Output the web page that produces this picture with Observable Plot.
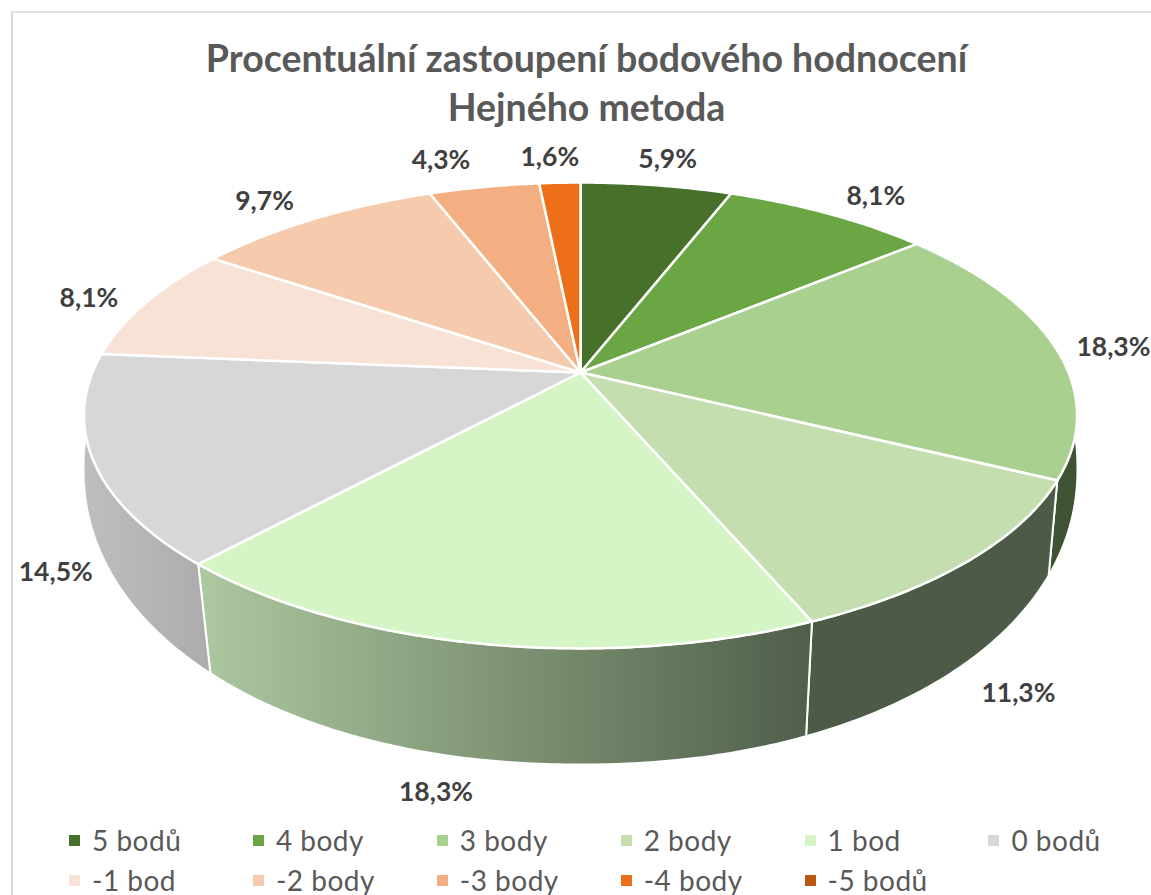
<!DOCTYPE html>
<html lang="cs"><head><meta charset="utf-8">
<script src="https://cdn.jsdelivr.net/npm/d3@7"></script>
<script src="https://cdn.jsdelivr.net/npm/@observablehq/plot@0.6"></script>
<style>
html,body{margin:0;padding:0;background:#fff;overflow:hidden;width:1151px;height:895px}
#frame{position:absolute;left:11px;top:11px;width:1140px;height:884px;border-left:2px solid #d9d9d9;border-top:2px solid #e2e2e2;box-sizing:border-box}
#title{position:absolute;left:0;top:33px;width:1173px;text-align:center;font:bold 37.5px/49px Lato,sans-serif;color:#595959}
#chart{position:absolute;left:0;top:132px}
#legend{position:absolute;left:69px;top:820px;display:grid;grid-template-columns:repeat(6,183.9px);grid-auto-rows:40px;font:28px/40px Lato,sans-serif;color:#595959;letter-spacing:.5px}
#legend div{white-space:nowrap;display:flex;align-items:center}
#legend i{display:inline-block;width:11px;height:11px;margin-right:12px}
</style></head><body>
<div id="frame"></div>
<div id="title"></div>
<div id="chart"></div>
<div id="legend"></div>
<script>
const titleLines = ["Procentuální zastoupení bodového hodnocení", "Hejného metoda"];
const categories = ["5 bodů","4 body","3 body","2 body","1 bod","0 bodů","-1 bod","-2 body","-3 body","-4 body","-5 bodů"];
const shares = [5.9, 8.1, 18.3, 11.3, 18.3, 14.5, 8.1, 9.7, 4.3, 1.6, 0];
const colors = ["#47712B","#6AA644","#A9D08E","#C5DEB0","#D6F5C6","#D7D7D7","#F7E2D5","#F6CAAD","#F3AF82","#ED7018","#B85813"];
const wallFills = {"3 body":"#3F5233","2 body":"#4D5A47","1 bod":"url(#wall1)","0 bodů":"url(#wall0)"};
const labelDx = [0,12,-1,21,-33,12,-1,-12,-29,-7];
const labelDy = [0,4,4,5,7,13,5,3,-1,1];

document.getElementById("title").innerHTML = titleLines.join("<br>");
document.getElementById("legend").innerHTML = categories.map((c,i)=>`<div><i style="background:${colors[i]}"></i>${c}</div>`).join("");

// perspective projection of the pie's top disc, and the rounded curve of its lower rim
const cx = 580;
const topDisc = {cy:372, a:488, b:225, k:0.1845};
const lowerRim = {cy:468, a:497, b:296, warp:0.118, power:0.952};
const projectTop = t=>{
  const w = 1 + topDisc.k*Math.cos(t);
  return [cx + topDisc.a*Math.sin(t)/w, topDisc.cy - topDisc.b*Math.cos(t)/w];
};
const rounded = v=>Math.sign(v)*Math.pow(Math.abs(v),lowerRim.power);
const projectLow = t=>{
  const f = t - lowerRim.warp*Math.sin(t);
  return [cx + lowerRim.a*rounded(Math.sin(f)), lowerRim.cy - lowerRim.b*rounded(Math.cos(f))];
};
const total = d3.sum(shares);
let acc = 0;
const wedges = categories.map((name,i)=>{
  const t0 = acc/total*2*Math.PI; acc += shares[i];
  const t1 = acc/total*2*Math.PI;
  return {name,i,t0,t1,mid:(t0+t1)/2,value:shares[i],color:colors[i]};
}).filter(d=>d.value>0);
const arc = (d,proj)=>{
  const n = Math.max(2,Math.ceil((d.t1-d.t0)/0.01));
  return d3.range(n+1).map(j=>proj(d.t0+(d.t1-d.t0)*j/n));
};
const topPolys = wedges.flatMap(d=>[[cx,topDisc.cy],...arc(d,projectTop)].map(p=>({name:d.name,color:d.color,x:p[0],y:p[1]})));
const wallMarks = wedges.filter(d=>wallFills[d.name]).map(d=>{
  const pts = [...arc(d,projectTop),...arc(d,projectLow).reverse()];
  return Plot.line(pts,{x:p=>p[0],y:p=>p[1],fill:wallFills[d.name],stroke:"white",strokeWidth:2,curve:"linear-closed"});
});
const labels = wedges.map((d,j)=>{
  const front = Math.cos(d.mid) < -0.2;
  const p = (front?projectLow:projectTop)(d.mid);
  return {x:p[0]+60*Math.sin(d.mid)+labelDx[j], y:p[1]-26*Math.cos(d.mid)+labelDy[j],
          text:d.value.toFixed(1).replace(".",",")+"%"};
});
const defs = ()=>{
  const s = d3.create("svg:defs");
  const g = (id,a,b)=>{const lg=s.append("linearGradient").attr("id",id);
    lg.append("stop").attr("offset","0%").attr("stop-color",a);
    lg.append("stop").attr("offset","100%").attr("stop-color",b);};
  g("wall1","#ADC9A0","#505E4A");
  g("wall0","#BEBEBE","#ACACAC");
  return s.node();
};
const plot = Plot.plot({
  width:1151, height:680, margin:0,
  x:{domain:[0,1151],range:[0,1151],axis:null},
  y:{domain:[132,812],range:[0,680],axis:null},
  marks:[
    defs,
    ...wallMarks,
    Plot.line(topPolys,{x:"x",y:"y",z:"name",fill:"color",stroke:"white",strokeWidth:2.5,strokeLinejoin:"round",curve:"linear-closed"}),
    Plot.text(labels,{x:"x",y:"y",text:"text",fontSize:26.5,fontWeight:"bold",fontFamily:"Lato, sans-serif",fill:"#404040"})
  ]
});
plot.style.background="transparent";
plot.style.overflow="visible";
document.getElementById("chart").appendChild(plot);
</script>
</body></html>
